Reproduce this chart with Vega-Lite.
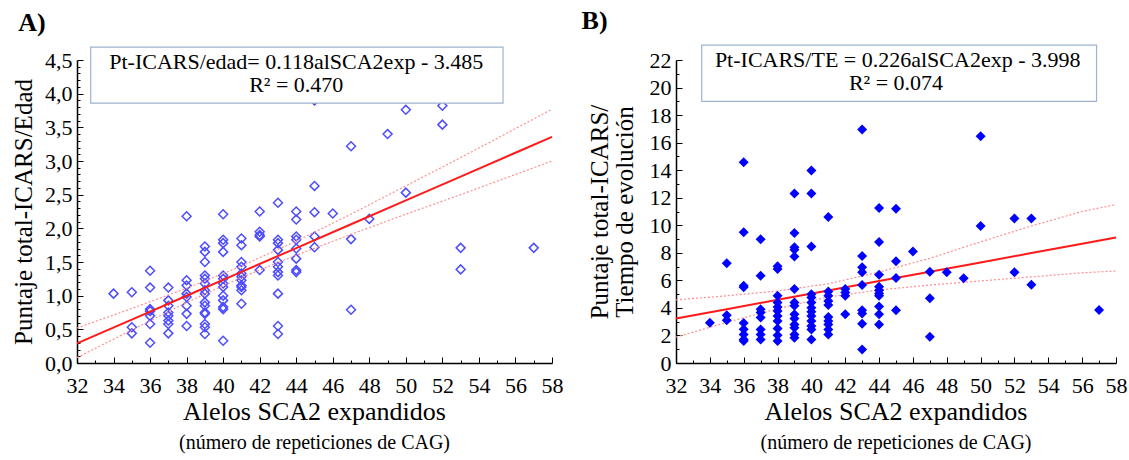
{
  "$schema": "https://vega.github.io/schema/vega-lite/v6.json",
  "background": "white",
  "padding": {"left": 11, "top": 7, "right": 2, "bottom": 2},
  "bounds": "flush",
  "spacing": 124,
  "config": {
    "view": {"stroke": null},
    "font": "Liberation Serif",
    "axis": {
      "grid": false,
      "labelFont": "Liberation Serif",
      "labelFontSize": 22,
      "labelColor": "black",
      "domainColor": "black",
      "domainWidth": 1.5,
      "tickColor": "black",
      "tickWidth": 1,
      "titleFont": "Liberation Serif",
      "titleFontSize": 25,
      "titleFontWeight": "normal",
      "titleColor": "black"
    },
    "title": {
      "font": "Liberation Serif",
      "fontSize": 26,
      "fontWeight": "normal",
      "color": "black",
      "subtitleFont": "Liberation Serif",
      "subtitleFontSize": 20,
      "subtitleColor": "black"
    }
  },
  "datasets": {
    "ptsA": [
      {"x": 34, "y": 1.03},
      {"x": 35, "y": 1.05}, {"x": 35, "y": 0.53}, {"x": 35, "y": 0.44},
      {"x": 36, "y": 1.37}, {"x": 36, "y": 1.12}, {"x": 36, "y": 0.8}, {"x": 36, "y": 0.77}, {"x": 36, "y": 0.7}, {"x": 36, "y": 0.58}, {"x": 36, "y": 0.3},
      {"x": 37, "y": 1.12}, {"x": 37, "y": 0.93}, {"x": 37, "y": 0.85}, {"x": 37, "y": 0.75}, {"x": 37, "y": 0.7}, {"x": 37, "y": 0.63}, {"x": 37, "y": 0.58}, {"x": 37, "y": 0.44},
      {"x": 38, "y": 2.18}, {"x": 38, "y": 1.23}, {"x": 38, "y": 1.15}, {"x": 38, "y": 1.03}, {"x": 38, "y": 0.98}, {"x": 38, "y": 0.85}, {"x": 38, "y": 0.73}, {"x": 38, "y": 0.55},
      {"x": 39, "y": 1.73}, {"x": 39, "y": 1.65}, {"x": 39, "y": 1.5}, {"x": 39, "y": 1.3}, {"x": 39, "y": 1.25}, {"x": 39, "y": 1.18}, {"x": 39, "y": 1.08}, {"x": 39, "y": 1.03}, {"x": 39, "y": 0.9}, {"x": 39, "y": 0.85}, {"x": 39, "y": 0.75}, {"x": 39, "y": 0.73}, {"x": 39, "y": 0.58}, {"x": 39, "y": 0.53}, {"x": 39, "y": 0.43},
      {"x": 40, "y": 2.21}, {"x": 40, "y": 1.83}, {"x": 40, "y": 1.78}, {"x": 40, "y": 1.65}, {"x": 40, "y": 1.3}, {"x": 40, "y": 1.25}, {"x": 40, "y": 1.18}, {"x": 40, "y": 1.13}, {"x": 40, "y": 1.0}, {"x": 40, "y": 0.93}, {"x": 40, "y": 0.83}, {"x": 40, "y": 0.8}, {"x": 40, "y": 0.33},
      {"x": 41, "y": 1.85}, {"x": 41, "y": 1.75}, {"x": 41, "y": 1.5}, {"x": 41, "y": 1.43}, {"x": 41, "y": 1.33}, {"x": 41, "y": 1.28}, {"x": 41, "y": 1.23}, {"x": 41, "y": 1.15}, {"x": 41, "y": 1.13}, {"x": 41, "y": 1.08}, {"x": 41, "y": 0.88},
      {"x": 42, "y": 2.25}, {"x": 42, "y": 1.95}, {"x": 42, "y": 1.9}, {"x": 42, "y": 1.88}, {"x": 42, "y": 1.38},
      {"x": 43, "y": 2.38}, {"x": 43, "y": 1.83}, {"x": 43, "y": 1.78}, {"x": 43, "y": 1.68}, {"x": 43, "y": 1.5}, {"x": 43, "y": 1.43}, {"x": 43, "y": 1.35}, {"x": 43, "y": 1.3}, {"x": 43, "y": 1.03}, {"x": 43, "y": 0.55}, {"x": 43, "y": 0.43},
      {"x": 44, "y": 2.25}, {"x": 44, "y": 2.13}, {"x": 44, "y": 1.88}, {"x": 44, "y": 1.83}, {"x": 44, "y": 1.7}, {"x": 44, "y": 1.55}, {"x": 44, "y": 1.38}, {"x": 44, "y": 1.35},
      {"x": 45, "y": 3.9}, {"x": 45, "y": 2.63}, {"x": 45, "y": 2.24}, {"x": 45, "y": 1.88}, {"x": 45, "y": 1.72},
      {"x": 46, "y": 2.22},
      {"x": 47, "y": 3.22}, {"x": 47, "y": 1.84}, {"x": 47, "y": 0.79},
      {"x": 48, "y": 2.14},
      {"x": 49, "y": 3.4},
      {"x": 50, "y": 3.76}, {"x": 50, "y": 2.53},
      {"x": 52, "y": 3.82}, {"x": 52, "y": 3.54},
      {"x": 53, "y": 1.71}, {"x": 53, "y": 1.39},
      {"x": 57, "y": 1.71}
    ],
    "linesA": [
      {"x": 32, "fit": 0.291, "lo": 0.08, "hi": 0.52},
      {"x": 35, "fit": 0.645, "lo": 0.49, "hi": 0.81},
      {"x": 38, "fit": 0.999, "lo": 0.9, "hi": 1.11},
      {"x": 41, "fit": 1.353, "lo": 1.27, "hi": 1.44},
      {"x": 44, "fit": 1.707, "lo": 1.6, "hi": 1.81},
      {"x": 47, "fit": 2.061, "lo": 1.91, "hi": 2.21},
      {"x": 50, "fit": 2.415, "lo": 2.21, "hi": 2.63},
      {"x": 53, "fit": 2.769, "lo": 2.5, "hi": 3.05},
      {"x": 56, "fit": 3.123, "lo": 2.8, "hi": 3.48},
      {"x": 58, "fit": 3.359, "lo": 3.0, "hi": 3.77}
    ],
    "ptsB": [
      {"x": 34, "y": 2.93},
      {"x": 35, "y": 7.24}, {"x": 35, "y": 3.46}, {"x": 35, "y": 3.1},
      {"x": 36, "y": 14.58}, {"x": 36, "y": 9.5}, {"x": 36, "y": 5.6}, {"x": 36, "y": 5.5}, {"x": 36, "y": 2.9}, {"x": 36, "y": 2.45}, {"x": 36, "y": 2.07}, {"x": 36, "y": 1.7}, {"x": 36, "y": 1.6},
      {"x": 37, "y": 8.98}, {"x": 37, "y": 6.34}, {"x": 37, "y": 3.9}, {"x": 37, "y": 3.66}, {"x": 37, "y": 3.3}, {"x": 37, "y": 2.44}, {"x": 37, "y": 2.07}, {"x": 37, "y": 1.7},
      {"x": 38, "y": 7.02}, {"x": 38, "y": 6.83}, {"x": 38, "y": 4.88}, {"x": 38, "y": 4.39}, {"x": 38, "y": 4.07}, {"x": 38, "y": 3.78}, {"x": 38, "y": 3.41}, {"x": 38, "y": 3.05}, {"x": 38, "y": 2.51}, {"x": 38, "y": 2.02}, {"x": 38, "y": 1.59},
      {"x": 39, "y": 12.3}, {"x": 39, "y": 9.44}, {"x": 39, "y": 8.41}, {"x": 39, "y": 8.22}, {"x": 39, "y": 7.73}, {"x": 39, "y": 5.37}, {"x": 39, "y": 4.39}, {"x": 39, "y": 4.15}, {"x": 39, "y": 3.54}, {"x": 39, "y": 3.24}, {"x": 39, "y": 2.8}, {"x": 39, "y": 2.56}, {"x": 39, "y": 2.07}, {"x": 39, "y": 1.83},
      {"x": 40, "y": 13.97}, {"x": 40, "y": 12.3}, {"x": 40, "y": 8.46}, {"x": 40, "y": 5.0}, {"x": 40, "y": 4.76}, {"x": 40, "y": 4.39}, {"x": 40, "y": 4.02}, {"x": 40, "y": 3.73}, {"x": 40, "y": 3.41}, {"x": 40, "y": 3.05}, {"x": 40, "y": 2.68}, {"x": 40, "y": 2.44}, {"x": 40, "y": 1.7},
      {"x": 41, "y": 10.6}, {"x": 41, "y": 5.2}, {"x": 41, "y": 4.88}, {"x": 41, "y": 4.51}, {"x": 41, "y": 4.22}, {"x": 41, "y": 3.34}, {"x": 41, "y": 3.05}, {"x": 41, "y": 2.8}, {"x": 41, "y": 2.44}, {"x": 41, "y": 2.07},
      {"x": 42, "y": 5.37}, {"x": 42, "y": 5.12}, {"x": 42, "y": 4.88}, {"x": 42, "y": 3.54},
      {"x": 43, "y": 16.95}, {"x": 43, "y": 7.76}, {"x": 43, "y": 6.95}, {"x": 43, "y": 6.59}, {"x": 43, "y": 5.66}, {"x": 43, "y": 3.83}, {"x": 43, "y": 3.59}, {"x": 43, "y": 2.85}, {"x": 43, "y": 0.98},
      {"x": 44, "y": 11.25}, {"x": 44, "y": 8.78}, {"x": 44, "y": 6.41}, {"x": 44, "y": 5.54}, {"x": 44, "y": 5.29}, {"x": 44, "y": 5.05}, {"x": 44, "y": 4.88}, {"x": 44, "y": 4.1}, {"x": 44, "y": 3.54}, {"x": 44, "y": 2.8},
      {"x": 45, "y": 11.2}, {"x": 45, "y": 7.39}, {"x": 45, "y": 6.17}, {"x": 45, "y": 3.83},
      {"x": 46, "y": 8.1},
      {"x": 47, "y": 6.63}, {"x": 47, "y": 4.71}, {"x": 47, "y": 1.9},
      {"x": 48, "y": 6.59},
      {"x": 49, "y": 6.15},
      {"x": 50, "y": 16.46}, {"x": 50, "y": 9.95},
      {"x": 52, "y": 10.5}, {"x": 52, "y": 6.59},
      {"x": 53, "y": 10.5}, {"x": 53, "y": 5.68},
      {"x": 57, "y": 3.85}
    ],
    "linesB": [
      {"x": 32, "fit": 3.23, "lo": 1.88, "hi": 4.58},
      {"x": 35, "fit": 3.91, "lo": 2.95, "hi": 4.88},
      {"x": 38, "fit": 4.59, "lo": 3.95, "hi": 5.23},
      {"x": 41, "fit": 5.27, "lo": 4.79, "hi": 5.75},
      {"x": 44, "fit": 5.95, "lo": 5.3, "hi": 6.6},
      {"x": 47, "fit": 6.62, "lo": 5.66, "hi": 7.6},
      {"x": 50, "fit": 7.3, "lo": 5.96, "hi": 8.8},
      {"x": 53, "fit": 7.98, "lo": 6.25, "hi": 9.95},
      {"x": 56, "fit": 8.66, "lo": 6.55, "hi": 11.0},
      {"x": 58, "fit": 9.11, "lo": 6.68, "hi": 11.5}
    ]
  },
  "hconcat": [
    {
      "width": 475,
      "height": 303,
      "title": {"text": "Alelos SCA2 expandidos", "subtitle": "(número de repeticiones de CAG)", "orient": "bottom", "anchor": "middle", "frame": "group", "offset": 3, "subtitlePadding": 8},
      "resolve": {"axis": {"x": "independent", "y": "independent"}},
      "layer": [
        {
          "data": {"name": "ptsA"},
          "mark": {"type": "point", "shape": "diamond", "filled": false, "color": "#4d4dff", "strokeWidth": 1.5, "size": 80, "opacity": 1},
          "encoding": {
            "x": {"field": "x", "type": "quantitative", "scale": {"domain": [32, 58], "nice": false, "zero": false},
              "axis": {"orient": "bottom", "values": [32, 34, 36, 38, 40, 42, 44, 46, 48, 50, 52, 54, 56, 58], "tickSize": -6, "labelPadding": 18, "title": null, "labelFlush": false, "labelOverlap": false, "labelFont": "Liberation Serif", "labelFontSize": 22}},
            "y": {"field": "y", "type": "quantitative", "scale": {"domain": [0, 4.5], "nice": false, "zero": false},
              "axis": {"orient": "left", "values": [0, 0.5, 1, 1.5, 2, 2.5, 3, 3.5, 4, 4.5], "labelExpr": "replace(format(datum.value, '.1f'), '.', ',')", "tickSize": -6, "labelPadding": 11, "title": "Puntaje total-ICARS/Edad", "titlePadding": 8, "labelFlush": false, "labelOverlap": false, "labelFont": "Liberation Serif", "labelFontSize": 22, "titleFont": "Liberation Serif", "titleFontSize": 25, "titleFontWeight": "normal"}}
          }
        },
        {
          "data": {"name": "linesA"},
          "mark": {"type": "line", "color": "#ff8f8f", "strokeWidth": 1.2, "strokeDash": [2, 2]},
          "encoding": {
            "x": {"field": "x", "type": "quantitative", "scale": {"domain": [32, 58], "nice": false, "zero": false}, "axis": null},
            "y": {"field": "lo", "type": "quantitative", "axis": null}
          }
        },
        {
          "data": {"name": "linesA"},
          "mark": {"type": "line", "color": "#ff8f8f", "strokeWidth": 1.2, "strokeDash": [2, 2]},
          "encoding": {
            "x": {"field": "x", "type": "quantitative", "axis": null},
            "y": {"field": "hi", "type": "quantitative", "axis": null}
          }
        },
        {
          "data": {"name": "linesA"},
          "mark": {"type": "line", "color": "#ff1a1a", "strokeWidth": 2},
          "encoding": {
            "x": {"field": "x", "type": "quantitative",
              "axis": {"orient": "top", "offset": -303, "values": [33, 35, 37, 39, 41, 43, 45, 47, 49, 51, 53, 55, 57], "tickSize": 3, "labels": false, "domain": false, "title": null}},
            "y": {"field": "fit", "type": "quantitative", "scale": {"domain": [0, 4.5], "nice": false, "zero": false},
              "axis": {"orient": "right", "offset": -475, "values": [0.1, 0.2, 0.3, 0.4, 0.6, 0.7, 0.8, 0.9, 1.1, 1.2, 1.3, 1.4, 1.6, 1.7, 1.8, 1.9, 2.1, 2.2, 2.3, 2.4, 2.6, 2.7, 2.8, 2.9, 3.1, 3.2, 3.3, 3.4, 3.6, 3.7, 3.8, 3.9, 4.1, 4.2, 4.3, 4.4], "tickSize": 3, "labels": false, "domain": false, "title": null}}
          }
        },
        {
          "data": {"values": [{}]},
          "mark": {"type": "rect", "fill": "white", "stroke": "#9fb4cc", "strokeWidth": 1.2},
          "encoding": {
            "x": {"datum": 32.75, "type": "quantitative", "axis": null},
            "x2": {"datum": 55.32},
            "y": {"datum": 4.69, "type": "quantitative", "axis": null},
            "y2": {"datum": 3.86}
          }
        },
        {
          "data": {"values": [{}]},
          "mark": {"type": "text", "font": "Liberation Serif", "fontSize": 22, "color": "black", "align": "center", "baseline": "middle"},
          "encoding": {
            "x": {"datum": 44.0, "type": "quantitative", "axis": null},
            "y": {"datum": 4.47, "type": "quantitative", "axis": null},
            "text": {"value": "Pt-ICARS/edad= 0.118alSCA2exp - 3.485"}
          }
        },
        {
          "data": {"values": [{}]},
          "mark": {"type": "text", "font": "Liberation Serif", "fontSize": 22, "color": "black", "align": "center", "baseline": "middle"},
          "encoding": {
            "x": {"datum": 44.0, "type": "quantitative", "axis": null},
            "y": {"datum": 4.13, "type": "quantitative", "axis": null},
            "text": {"value": "R² = 0.470"}
          }
        },
        {
          "data": {"values": [{}]},
          "mark": {"type": "text", "font": "Liberation Serif", "fontSize": 26, "fontWeight": "bold", "color": "black", "align": "center", "baseline": "middle"},
          "encoding": {
            "x": {"datum": 29.54, "type": "quantitative", "axis": null},
            "y": {"datum": 5.05, "type": "quantitative", "axis": null},
            "text": {"value": "A)"}
          }
        }
      ]
    },
    {
      "width": 440,
      "height": 303,
      "title": {"text": "Alelos SCA2 expandidos", "subtitle": "(número de repeticiones de CAG)", "orient": "bottom", "anchor": "middle", "frame": "group", "offset": 3, "subtitlePadding": 8},
      "resolve": {"axis": {"x": "independent", "y": "independent"}},
      "layer": [
        {
          "data": {"name": "linesB"},
          "mark": {"type": "line", "color": "#ff8f8f", "strokeWidth": 1.2, "strokeDash": [2, 2]},
          "encoding": {
            "x": {"field": "x", "type": "quantitative", "scale": {"domain": [32, 58], "nice": false, "zero": false}, "axis": null},
            "y": {"field": "lo", "type": "quantitative", "scale": {"domain": [0, 22], "nice": false, "zero": false}, "axis": null}
          }
        },
        {
          "data": {"name": "linesB"},
          "mark": {"type": "line", "color": "#ff8f8f", "strokeWidth": 1.2, "strokeDash": [2, 2]},
          "encoding": {
            "x": {"field": "x", "type": "quantitative", "axis": null},
            "y": {"field": "hi", "type": "quantitative", "axis": null}
          }
        },
        {
          "data": {"name": "linesB"},
          "mark": {"type": "line", "color": "#ff1a1a", "strokeWidth": 2},
          "encoding": {
            "x": {"field": "x", "type": "quantitative",
              "axis": {"orient": "top", "offset": -303, "values": [33, 35, 37, 39, 41, 43, 45, 47, 49, 51, 53, 55, 57], "tickSize": 3, "labels": false, "domain": false, "title": null}},
            "y": {"field": "fit", "type": "quantitative",
              "axis": {"orient": "right", "offset": -440, "values": [1, 3, 5, 7, 9, 11, 13, 15, 17, 19, 21], "tickSize": 3, "labels": false, "domain": false, "title": null}}
          }
        },
        {
          "data": {"name": "ptsB"},
          "mark": {"type": "point", "shape": "diamond", "filled": true, "color": "#0000ff", "size": 100, "opacity": 1},
          "encoding": {
            "x": {"field": "x", "type": "quantitative", "scale": {"domain": [32, 58], "nice": false, "zero": false},
              "axis": {"orient": "bottom", "values": [32, 34, 36, 38, 40, 42, 44, 46, 48, 50, 52, 54, 56, 58], "tickSize": -6, "labelPadding": 18, "title": null, "labelFlush": false, "labelOverlap": false, "labelFont": "Liberation Serif", "labelFontSize": 22}},
            "y": {"field": "y", "type": "quantitative", "scale": {"domain": [0, 22], "nice": false, "zero": false},
              "axis": {"orient": "left", "values": [0, 2, 4, 6, 8, 10, 12, 14, 16, 18, 20, 22], "tickSize": -6, "labelPadding": 11, "title": ["Puntaje total-ICARS/", "Tiempo de evolución"], "titleLineHeight": 25, "titlePadding": 12, "labelFlush": false, "labelOverlap": false, "labelFont": "Liberation Serif", "labelFontSize": 22, "titleFont": "Liberation Serif", "titleFontSize": 25, "titleFontWeight": "normal"}}
          }
        },
        {
          "data": {"values": [{}]},
          "mark": {"type": "rect", "fill": "white", "stroke": "#9fb4cc", "strokeWidth": 1.2},
          "encoding": {
            "x": {"datum": 33.52, "type": "quantitative", "axis": null},
            "x2": {"datum": 56.85},
            "y": {"datum": 23.08, "type": "quantitative", "axis": null},
            "y2": {"datum": 19.0}
          }
        },
        {
          "data": {"values": [{}]},
          "mark": {"type": "text", "font": "Liberation Serif", "fontSize": 22, "color": "black", "align": "center", "baseline": "middle"},
          "encoding": {
            "x": {"datum": 45.1, "type": "quantitative", "axis": null},
            "y": {"datum": 22.0, "type": "quantitative", "axis": null},
            "text": {"value": "Pt-ICARS/TE = 0.226alSCA2exp - 3.998"}
          }
        },
        {
          "data": {"values": [{}]},
          "mark": {"type": "text", "font": "Liberation Serif", "fontSize": 22, "color": "black", "align": "center", "baseline": "middle"},
          "encoding": {
            "x": {"datum": 45.0, "type": "quantitative", "axis": null},
            "y": {"datum": 20.32, "type": "quantitative", "axis": null},
            "text": {"value": "R² = 0.074"}
          }
        },
        {
          "data": {"values": [{}]},
          "mark": {"type": "text", "font": "Liberation Serif", "fontSize": 26, "fontWeight": "bold", "color": "black", "align": "center", "baseline": "middle"},
          "encoding": {
            "x": {"datum": 27.19, "type": "quantitative", "axis": null},
            "y": {"datum": 24.85, "type": "quantitative", "axis": null},
            "text": {"value": "B)"}
          }
        }
      ]
    }
  ]
}
